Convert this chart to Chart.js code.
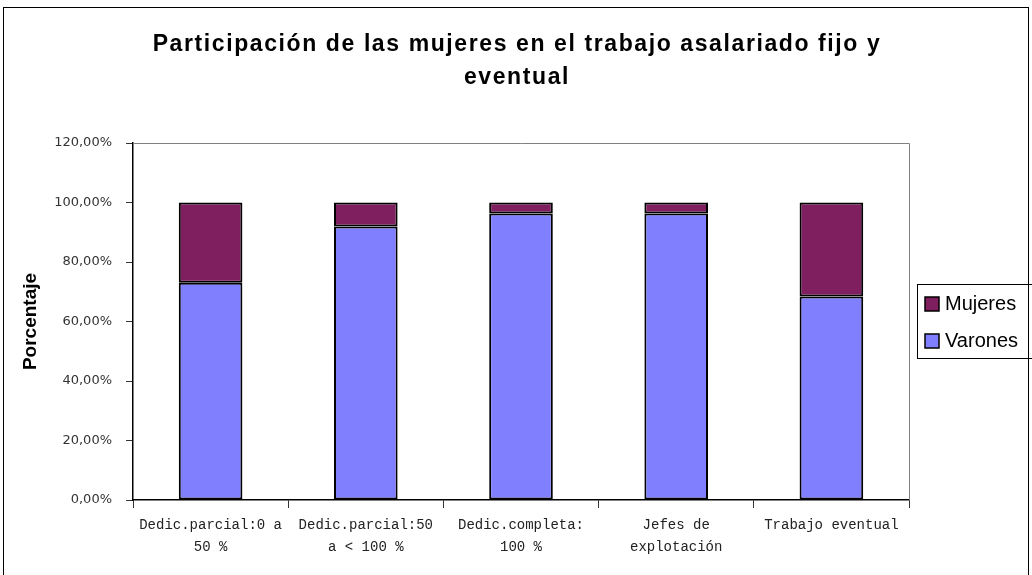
<!DOCTYPE html>
<html>
<head>
<meta charset="utf-8">
<script src="https://cdn.jsdelivr.net/npm/chart.js@4/dist/chart.umd.min.js"></script>
<style>
html,body{margin:0;padding:0;background:#fff;}
canvas{display:block;}
</style>
</head>
<body>
<canvas id="c" width="1032" height="575"></canvas>
<script>
const categories = [
  ["Dedic.parcial:0 a", "50 %"],
  ["Dedic.parcial:50", "a < 100 %"],
  ["Dedic.completa:", "100 %"],
  ["Jefes de", "explotación"],
  "Trabajo eventual"
];
const varones = [73.0, 91.9, 96.3, 96.3, 68.4];
const mujeres = [27.0, 8.1, 3.7, 3.7, 31.6];
const yTickLabels = ["0,00%", "20,00%", "40,00%", "60,00%", "80,00%", "100,00%", "120,00%"];
const titleLines = ["Participación de las mujeres en el trabajo asalariado fijo y", "eventual"];
const yTitle = "Porcentaje";
const seriesNames = ["Varones", "Mujeres"];
const seriesColors = ["#8080FF", "#7F1F5F"];

const decor = {
  id: 'decor',
  afterDraw(chart) {
    const ctx = chart.ctx;
    const a = chart.chartArea;
    ctx.save();
    // outer frame
    ctx.strokeStyle = '#000';
    ctx.lineWidth = 1;
    ctx.strokeRect(3.5, 7.5, 1025, 600);
    // title
    ctx.fillStyle = '#000';
    ctx.font = 'bold 23px "Liberation Sans", Arial, sans-serif';
    ctx.textAlign = 'center';
    ctx.textBaseline = 'middle';
    ctx.letterSpacing = '1.6px';
    titleLines.forEach((t, i) => ctx.fillText(t, 517, 45 + i * 33));
    ctx.letterSpacing = '0px';
    ctx.textAlign = 'left';
    // plot area top/right border
    ctx.strokeStyle = '#808080';
    ctx.beginPath();
    ctx.moveTo(a.left, Math.round(a.top) + 0.5);
    ctx.lineTo(Math.round(a.right) + 0.5, Math.round(a.top) + 0.5);
    ctx.lineTo(Math.round(a.right) + 0.5, a.bottom);
    ctx.stroke();
    // legend box
    ctx.strokeStyle = '#000';
    ctx.strokeRect(917.5, 284.5, 130, 74);
    const ds = chart.data.datasets.slice().reverse();
    ctx.font = '20px "Liberation Sans", Arial, sans-serif';
    ctx.textBaseline = 'middle';
    ds.forEach((d, i) => {
      const yc = 304 + i * 37;
      ctx.fillStyle = d.backgroundColor;
      ctx.fillRect(925, yc - 7, 14, 14);
      ctx.strokeStyle = '#000';
      ctx.lineWidth = 1.5;
      ctx.strokeRect(925, yc - 7, 14, 14);
      ctx.fillStyle = '#000';
      ctx.fillText(d.label, 945, yc);
    });
    ctx.restore();
  }
};

new Chart(document.getElementById('c'), {
  type: 'bar',
  data: {
    labels: categories,
    datasets: [
      { label: seriesNames[0], data: varones, backgroundColor: seriesColors[0] },
      { label: seriesNames[1], data: mujeres, backgroundColor: seriesColors[1] }
    ]
  },
  options: {
    responsive: false,
    animation: false,
    devicePixelRatio: 1,
    layout: { padding: { left: 19, right: 123, top: 143, bottom: 0 } },
    datasets: {
      bar: {
        barPercentage: 0.41,
        categoryPercentage: 1.0,
        borderColor: '#000',
        borderWidth: 2,
        borderSkipped: false
      }
    },
    plugins: {
      legend: { display: false },
      tooltip: { enabled: false },
      title: { display: false }
    },
    scales: {
      x: {
        stacked: true,
        grid: { display: true, drawOnChartArea: false, tickLength: 8, color: '#333', offset: true },
        border: { display: true, color: '#000', width: 1.5 },
        ticks: {
          color: '#222',
          maxRotation: 0,
          autoSkip: false,
          padding: 6,
          font: { family: '"Liberation Mono", "Courier New", monospace', size: 14, lineHeight: 1.57 }
        },
        afterFit(s) { s.height = 75; }
      },
      y: {
        stacked: true,
        min: 0,
        max: 120,
        grid: { display: true, drawOnChartArea: false, tickLength: 7, color: '#333' },
        border: { display: true, color: '#000', width: 1.5 },
        ticks: {
          stepSize: 20,
          color: '#333',
          padding: 14,
          font: { family: '"DejaVu Sans", sans-serif', size: 13 },
          callback(v, i) { return yTickLabels[i]; }
        },
        title: {
          display: true,
          text: yTitle,
          color: '#000',
          padding: 0,
          font: { family: '"Liberation Sans", Arial, sans-serif', size: 19, weight: 'bold' }
        },
        afterFit(s) { s.width = 114; }
      }
    }
  },
  plugins: [decor]
});
</script>
</body>
</html>
